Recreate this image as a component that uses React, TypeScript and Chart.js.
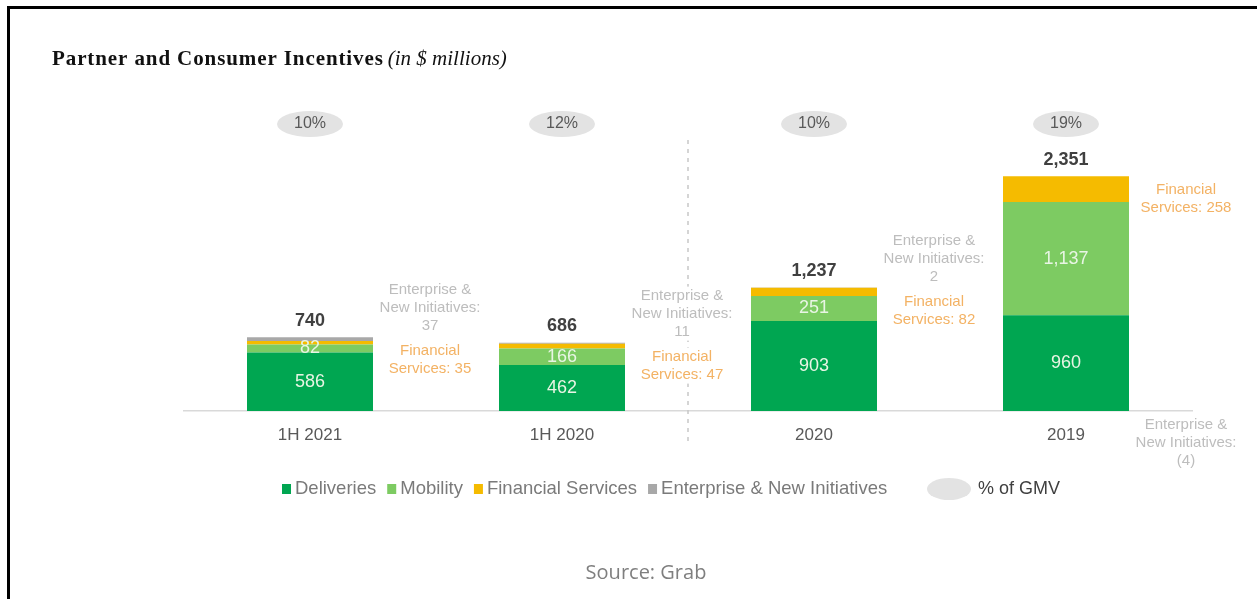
import React, { useEffect, useRef } from "react";
import { Chart, registerables } from "chart.js";

Chart.register(...registerables);

// ---- data ----
const categories = ["1H 2021", "1H 2020", "2020", "2019"];
const deliveries = [586, 462, 903, 960];
const mobility = [82, 166, 251, 1137];
const financialServices = [35, 47, 82, 258];
const enterpriseNew = [37, 11, 2, -4];
const totals = [740, 686, 1237, 2351];
const gmvPct = [10, 12, 10, 19];
const seriesNames = ["Deliveries", "Mobility", "Financial Services", "Enterprise & New Initiatives"];
const seriesColors = ["#00a651", "#7dcb62", "#f5bb00", "#a8a8a8"];
const titleMain = "Partner and Consumer Incentives";
const titleSub = "(in $ millions)";
const gmvLabel = "% of GMV";
const sourceText = "Source: Grab";

const SANS = "'Liberation Sans', Arial, sans-serif";
const fmt = (v: number) => (v < 0 ? `(${Math.abs(v).toLocaleString("en-US")})` : v.toLocaleString("en-US"));

const overlay = {
  id: "overlay",
  afterDatasetsDraw(chart: any) {
    const ctx: CanvasRenderingContext2D = chart.ctx;
    const area = chart.chartArea;
    const metas = [0, 1, 2, 3].map((d) => chart.getDatasetMeta(d));
    ctx.save();

    // title
    ctx.textAlign = "left";
    ctx.textBaseline = "alphabetic";
    ctx.fillStyle = "#111111";
    ctx.font = "bold 21px 'Liberation Serif', serif";
    (ctx as any).letterSpacing = "0.9px";
    ctx.fillText(titleMain, 42, 56);
    const w1 = ctx.measureText(titleMain).width;
    ctx.font = "italic 21px 'Liberation Serif', serif";
    (ctx as any).letterSpacing = "0px";
    ctx.fillText(titleSub, 42 + w1 + 4, 56);

    // dashed separator between 1H 2020 and 2020
    const xs = chart.scales.x;
    const sepX = (xs.getPixelForValue(1) + xs.getPixelForValue(2)) / 2;
    ctx.strokeStyle = "#c8c8c8";
    ctx.lineWidth = 1.5;
    ctx.setLineDash([4, 5]);
    ctx.beginPath();
    ctx.moveTo(sepX, area.top + 28);
    ctx.lineTo(sepX, area.bottom + 31);
    ctx.stroke();
    ctx.setLineDash([]);

    categories.forEach((_, i) => {
      const cx = metas[0].data[i].x;
      // inside labels
      ctx.font = `18px ${SANS}`;
      ctx.fillStyle = "#e8f5e4";
      ctx.textAlign = "center";
      ctx.textBaseline = "middle";
      [deliveries, mobility].forEach((arr, d) => {
        const bar = metas[d].data[i];
        ctx.fillText(fmt(arr[i]), cx, (bar.y + bar.base) / 2);
      });
      // top of positive stack
      let top = area.bottom;
      [deliveries, mobility, financialServices, enterpriseNew].forEach((arr, d) => {
        if (arr[i] > 0) top = Math.min(top, metas[d].data[i].y);
      });
      ctx.font = `bold 18px ${SANS}`;
      ctx.fillStyle = "#404040";
      ctx.fillText(totals[i].toLocaleString("en-US"), cx, top - 16.5);

      // % of GMV ellipse
      ctx.fillStyle = "#e3e3e3";
      ctx.beginPath();
      ctx.ellipse(cx, area.top + 12, 33, 13, 0, 0, Math.PI * 2);
      ctx.fill();
      ctx.font = `16px ${SANS}`;
      ctx.fillStyle = "#595959";
      ctx.fillText(`${gmvPct[i]}%`, cx, area.top + 12);

      // side annotations (white backing so the separator does not run through)
      const ax = cx + 120;
      ctx.font = `15px ${SANS}`;
      const lh = 18;
      const fin = ["Financial", `Services: ${fmt(financialServices[i])}`];
      const ent = ["Enterprise &", "New Initiatives:", fmt(enterpriseNew[i])];
      const finY = top + 14;
      const entY = enterpriseNew[i] >= 0 ? top - 47 : area.bottom + 14;
      ctx.fillStyle = "#ffffff";
      ctx.fillRect(ax - 52, finY - 9, 104, lh * 2);
      ctx.fillRect(ax - 52, entY - 9, 104, lh * 3);
      ctx.fillStyle = "#f3b264";
      fin.forEach((t, k) => ctx.fillText(t, ax, finY + k * lh));
      ctx.fillStyle = "#bdbdbd";
      ent.forEach((t, k) => ctx.fillText(t, ax, entY + k * lh));
    });

    // legend
    const ly = 480;
    let lx = 272;
    ctx.textAlign = "left";
    ctx.textBaseline = "middle";
    ctx.font = `18.5px ${SANS}`;
    seriesNames.forEach((name, d) => {
      ctx.fillStyle = seriesColors[d];
      ctx.fillRect(lx, ly - 5, 9, 10);
      lx += 13;
      ctx.fillStyle = "#7a7a7a";
      ctx.fillText(name, lx, ly);
      lx += ctx.measureText(name).width + 11;
    });
    ctx.fillStyle = "#e3e3e3";
    ctx.beginPath();
    ctx.ellipse(939, ly, 22, 11, 0, 0, Math.PI * 2);
    ctx.fill();
    ctx.fillStyle = "#404040";
    ctx.font = `18px ${SANS}`;
    ctx.fillText(gmvLabel, 968, ly);

    // source
    ctx.textAlign = "center";
    ctx.textBaseline = "alphabetic";
    ctx.font = "20px 'Open Sans', sans-serif";
    ctx.fillStyle = "#7f7f7f";
    ctx.fillText(sourceText, 636, 570);

    ctx.restore();
  },
};

export default function App() {
  const ref = useRef<HTMLCanvasElement | null>(null);
  useEffect(() => {
    if (!ref.current) return;
    const series = [deliveries, mobility, financialServices, enterpriseNew];
    const chart = new Chart(ref.current, {
      type: "bar",
      data: {
        labels: categories,
        datasets: series.map((arr, d) => ({
          label: seriesNames[d],
          data: arr,
          backgroundColor: seriesColors[d],
          borderWidth: 0,
          categoryPercentage: 0.5,
          barPercentage: 1,
        })),
      },
      options: {
        responsive: false,
        animation: false,
        devicePixelRatio: 1,
        layout: { padding: { left: 174, right: 65, top: 103, bottom: 0 } },
        plugins: {
          legend: { display: false },
          tooltip: { enabled: false },
          title: { display: false },
        },
        scales: {
          x: {
            stacked: true,
            grid: { display: false, drawTicks: false },
            border: { display: true, color: "#d9d9d9", width: 1.5 },
            ticks: { color: "#595959", font: { family: SANS, size: 17 }, padding: 14 },
            afterFit: (s: any) => {
              s.height = 188;
            },
          },
          y: { stacked: true, display: false, min: 0, max: 3000 },
        },
      },
      plugins: [overlay],
    });
    return () => chart.destroy();
  }, []);

  return (
    <div style={{ position: "fixed", left: 0, top: 0, width: 1257, height: 599, background: "#fff", overflow: "hidden" }}>
      <div style={{ position: "absolute", left: 7, top: 6, width: 1250, height: 3, background: "#000" }} />
      <div style={{ position: "absolute", left: 7, top: 6, width: 3, height: 593, background: "#000" }} />
      <canvas ref={ref} width={1247} height={590} style={{ position: "absolute", left: 10, top: 9 }} />
    </div>
  );
}
